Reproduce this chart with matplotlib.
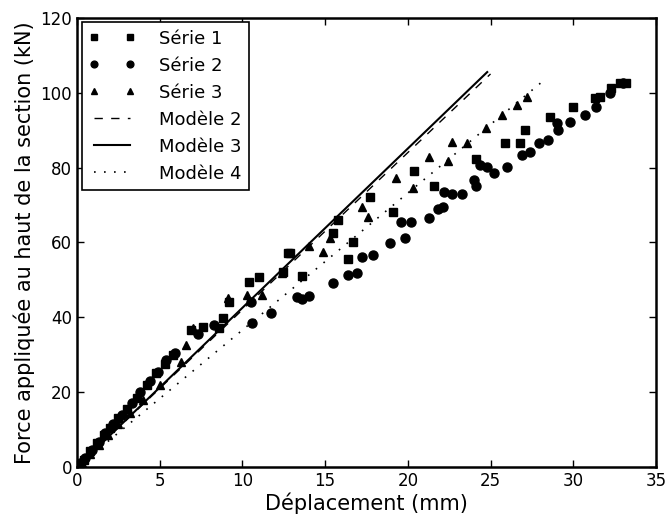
import matplotlib
matplotlib.use("Agg")
import matplotlib.pyplot as plt
import numpy as np

# Série 1 (carrés)
s1_x = [0.1, 0.4, 0.8, 1.2, 1.6, 2.0, 2.5, 3.0, 3.6, 4.2, 4.8, 5.3, 5.8,
        6.9, 7.6, 8.6, 8.8, 9.2, 10.4, 11.0, 12.45, 12.75, 12.9, 13.6,
        15.5, 15.8, 16.4, 16.7, 17.7, 19.1, 20.4, 21.6, 24.1, 25.9, 26.8,
        27.1, 28.6, 30.0, 31.3, 31.6, 32.3, 32.8, 33.2]
s1_y = [0.5, 2.0, 4.2, 6.3, 8.5, 10.5, 13.0, 15.5, 18.5, 22.0, 25.0, 27.5, 30.0,
        36.6, 37.4, 37.2, 39.8, 44.1, 49.5, 50.8, 52.1, 57.2, 57.2, 51.1,
        62.6, 66.0, 55.6, 60.2, 72.2, 68.2, 79.1, 75.1, 82.4, 86.6, 86.6,
        90.1, 93.6, 96.3, 98.7, 98.9, 101.3, 102.7, 102.7]

# Série 2 (cercles)
s2_x = [0.2, 0.5, 0.9, 1.3, 1.7, 2.2, 2.7, 3.3, 3.8, 4.4, 4.9, 5.4, 5.9,
        7.3, 8.3, 10.5, 10.6, 11.7, 13.3, 13.6, 14.0, 15.5, 16.4, 16.9,
        17.2, 17.9, 18.9, 19.8, 19.6, 20.2, 21.3, 21.8, 22.1, 22.2, 22.7,
        23.3, 24.0, 24.1, 24.35, 24.8, 25.2, 26.0, 26.9, 27.4, 27.9, 28.5,
        29.1, 29.0, 29.8, 30.7, 31.4, 32.2, 33.0]
s2_y = [1.0, 2.5, 4.5, 6.8, 9.0, 11.5, 14.0, 17.0, 20.0, 23.0, 25.5, 28.5, 30.5,
        35.5, 38.0, 44.0, 38.5, 41.2, 45.5, 45.0, 45.7, 49.2, 51.3, 51.9,
        56.1, 56.7, 59.9, 61.2, 65.5, 65.5, 66.6, 69.0, 69.5, 73.5, 73.0,
        73.0, 76.7, 75.1, 80.7, 80.2, 78.6, 80.2, 83.4, 84.2, 86.6, 87.4,
        90.1, 92.0, 92.2, 94.1, 96.3, 100.0, 102.5]

# Série 3 (triangles)
s3_x = [0.3, 0.8, 1.3, 1.9, 2.5, 3.2, 4.0, 5.0, 6.3, 6.6, 7.0, 9.1, 10.3,
        11.2, 12.4, 14.0, 14.9, 15.3, 17.2, 17.6, 19.3, 20.3, 21.3, 22.4,
        22.7, 23.6, 24.7, 25.7, 26.6, 27.2]
s3_y = [1.2, 3.5, 6.0, 8.5, 11.5, 14.5, 18.0, 22.0, 28.0, 32.6, 37.2, 45.2, 46.0,
        46.0, 51.9, 59.1, 57.5, 61.2, 69.5, 66.8, 77.3, 74.6, 82.9, 81.8,
        86.9, 86.6, 90.6, 94.1, 96.8, 98.9]

# Modèles linéaires : (déplacement final, force finale)
m2_x = [0.0, 25.0]
m2_y = [0.0, 105.0]
m3_x = [0.0, 24.8]
m3_y = [0.0, 105.5]
m4_x = [0.0, 28.2]
m4_y = [0.0, 103.2]

x_ticks = [0, 5, 10, 15, 20, 25, 30, 35]
y_ticks = [0, 20, 40, 60, 80, 100, 120]

fig = plt.figure(figsize=(6.7, 5.14), dpi=100)
ax = fig.add_axes([0.115, 0.0914, 0.864, 0.874])

ms = 6
ax.plot(s1_x, s1_y, linestyle="none", marker="s", color="black", markersize=ms, label="Série 1")
ax.plot(s2_x, s2_y, linestyle="none", marker="o", color="black", markersize=ms + 0.5, label="Série 2")
ax.plot(s3_x, s3_y, linestyle="none", marker="^", color="black", markersize=ms, label="Série 3")
ax.plot(m2_x, m2_y, linestyle=(0, (6, 6)), color="black", linewidth=1.0, label="Modèle 2")
ax.plot(m3_x, m3_y, linestyle="-", color="black", linewidth=1.5, label="Modèle 3")
ax.plot(m4_x, m4_y, linestyle=(0, (1, 5)), color="black", linewidth=1.2, label="Modèle 4")

ax.set_xlim(0, 35)
ax.set_ylim(0, 120)
ax.set_xticks(x_ticks)
ax.set_yticks(y_ticks)
ax.tick_params(direction="in", top=True, right=True, labelsize=12, length=5, width=1)
for sp in ax.spines.values():
    sp.set_linewidth(1.8)

ax.set_xlabel("Déplacement (mm)", fontsize=15, labelpad=2)
ax.set_ylabel("Force appliquée au haut de la section (kN)", fontsize=15, labelpad=4)

leg = ax.legend(loc="upper left", numpoints=2, fontsize=13, fancybox=False,
                framealpha=1, edgecolor="black", borderaxespad=0.25,
                handlelength=2.6, handletextpad=1.3, labelspacing=0.5,
                markerscale=0.75)
leg.get_frame().set_linewidth(1.2)

fig.savefig("out.png", dpi=100)
